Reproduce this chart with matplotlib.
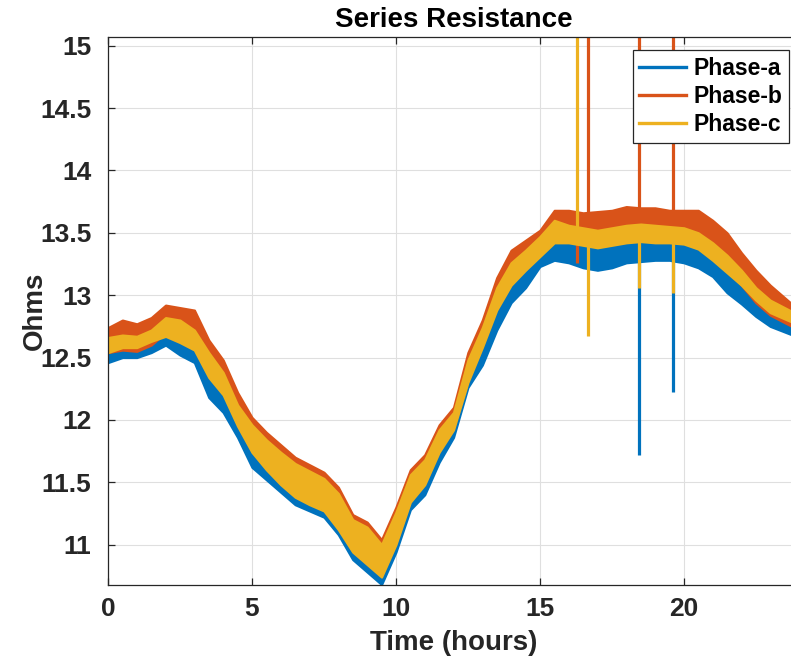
import numpy as np
import matplotlib
matplotlib.use("Agg")
import matplotlib.pyplot as plt

plt.rcParams['font.family'] = ['Liberation Sans', 'DejaVu Sans']
plt.rcParams['font.weight'] = 'bold'

# ---------------- data ----------------
time_h = [0.0, 0.5, 1.0, 1.5, 2.0, 2.5, 3.0, 3.5, 4.0, 4.5, 5.0, 5.5, 6.0, 6.5,
          7.0, 7.5, 8.0, 8.5, 9.0, 9.5, 10.0, 10.5, 11.0, 11.5, 12.0, 12.5,
          13.0, 13.5, 14.0, 14.5, 15.0, 15.5, 16.0, 16.5, 17.0, 17.5, 18.0,
          18.5, 19.0, 19.5, 20.0, 20.5, 21.0, 21.5, 22.0, 22.5, 23.0, 24.0]

# Phase-a band (lower / upper extent of the noisy trace)
phase_a_lo = [12.46, 12.50, 12.50, 12.54, 12.60, 12.52, 12.46, 12.18, 12.06, 11.86,
              11.62, 11.52, 11.42, 11.32, 11.27, 11.22, 11.08, 10.88, 10.78, 10.68,
              10.94, 11.28, 11.40, 11.66, 11.86, 12.26, 12.44, 12.72, 12.94, 13.06,
              13.23, 13.28, 13.26, 13.22, 13.20, 13.22, 13.26, 13.27, 13.28, 13.28,
              13.26, 13.22, 13.15, 13.02, 12.93, 12.83, 12.75, 12.66]
phase_a_hi = [12.66, 12.70, 12.70, 12.75, 12.79, 12.74, 12.68, 12.46, 12.32, 12.07,
              11.86, 11.72, 11.60, 11.50, 11.44, 11.39, 11.24, 11.06, 10.96, 10.86,
              11.12, 11.46, 11.60, 11.86, 12.04, 12.42, 12.70, 13.00, 13.20, 13.32,
              13.43, 13.54, 13.54, 13.52, 13.50, 13.52, 13.54, 13.55, 13.54, 13.54,
              13.53, 13.49, 13.40, 13.30, 13.20, 13.08, 12.98, 12.88]

# Phase-b band
phase_b_lo = [12.54, 12.56, 12.55, 12.60, 12.70, 12.68, 12.60, 12.42, 12.26, 12.00,
              11.84, 11.72, 11.62, 11.53, 11.47, 11.41, 11.29, 11.08, 11.02, 10.88,
              11.14, 11.44, 11.56, 11.80, 11.94, 12.36, 12.62, 12.94, 13.14, 13.24,
              13.35, 13.48, 13.44, 13.42, 13.40, 13.42, 13.44, 13.45, 13.44, 13.43,
              13.42, 13.38, 13.30, 13.20, 13.08, 12.94, 12.84, 12.72]
phase_b_hi = [12.74, 12.80, 12.77, 12.82, 12.92, 12.90, 12.88, 12.64, 12.48, 12.22,
              12.02, 11.90, 11.80, 11.70, 11.64, 11.58, 11.46, 11.24, 11.18, 11.04,
              11.30, 11.60, 11.72, 11.96, 12.10, 12.54, 12.80, 13.14, 13.36, 13.44,
              13.52, 13.68, 13.68, 13.66, 13.67, 13.68, 13.71, 13.70, 13.70, 13.68,
              13.68, 13.68, 13.60, 13.50, 13.34, 13.20, 13.08, 12.88]

# Phase-c band
phase_c_lo = [12.54, 12.58, 12.58, 12.63, 12.67, 12.62, 12.56, 12.34, 12.20, 11.95,
              11.74, 11.60, 11.48, 11.38, 11.32, 11.27, 11.12, 10.94, 10.84, 10.74,
              11.00, 11.34, 11.48, 11.74, 11.92, 12.30, 12.58, 12.88, 13.08, 13.20,
              13.31, 13.42, 13.42, 13.40, 13.38, 13.40, 13.42, 13.43, 13.42, 13.42,
              13.41, 13.37, 13.28, 13.18, 13.08, 12.96, 12.86, 12.76]
phase_c_hi = [12.66, 12.68, 12.67, 12.72, 12.82, 12.80, 12.72, 12.54, 12.38, 12.12,
              11.96, 11.84, 11.74, 11.65, 11.59, 11.53, 11.41, 11.20, 11.14, 11.00,
              11.26, 11.56, 11.68, 11.92, 12.06, 12.48, 12.74, 13.06, 13.26, 13.36,
              13.47, 13.60, 13.56, 13.54, 13.52, 13.54, 13.56, 13.57, 13.56, 13.55,
              13.54, 13.50, 13.42, 13.32, 13.20, 13.06, 12.96, 12.84]

# Single-sample outliers (time, extreme value)
spike_a_t = [18.44, 19.62]
spike_a_v = [11.72, 12.22]
spike_b_t = [16.30, 16.68, 18.44, 19.62]
spike_b_v = [13.26, 15.60, 15.60, 15.60]
spike_c_t = [16.30, 16.67, 18.44, 19.62]
spike_c_v = [15.60, 12.67, 13.06, 13.02]

series_names = ["Phase-a", "Phase-b", "Phase-c"]
series_colors = ["#0072BD", "#D95319", "#EDB120"]

# ---------------- figure ----------------
W, H = 791, 663
fig = plt.figure(figsize=(W / 100, H / 100), dpi=100)
ax = fig.add_axes([108 / W, 1 - 585 / H, (799 - 108) / W, (585 - 37) / H])

bands = [(phase_a_lo, phase_a_hi, spike_a_t, spike_a_v),
         (phase_b_lo, phase_b_hi, spike_b_t, spike_b_v),
         (phase_c_lo, phase_c_hi, spike_c_t, spike_c_v)]

handles = []
for (lo, hi, st, sv), name, col in zip(bands, series_names, series_colors):
    ax.fill_between(time_h, lo, hi, color=col, linewidth=1.6, edgecolor=col, zorder=2)
    mid = np.interp(st, time_h, (np.array(lo) + np.array(hi)) / 2)
    ax.vlines(st, mid, sv, color=col, linewidth=2.3, zorder=2)
    h, = ax.plot([], [], color=col, linewidth=2.4, label=name)
    handles.append(h)

ax.set_xlim(0, 24)
ax.set_ylim(10.676, 15.07)
ax.set_xticks([0, 5, 10, 15, 20])
ax.set_yticks([11, 11.5, 12, 12.5, 13, 13.5, 14, 14.5, 15])
ax.set_yticklabels(["11", "11.5", "12", "12.5", "13", "13.5", "14", "14.5", "15"])

ax.grid(True, color="#dfdfdf", linewidth=0.8, zorder=0)
ax.set_axisbelow(True)
for s in ax.spines.values():
    s.set_color("#262626")
    s.set_linewidth(0.9)
ax.tick_params(direction="in", length=5, width=0.9, color="#262626",
               top=True, right=True, labelsize=19, labelcolor="#262626")
ax.tick_params(axis="y", pad=12)
ax.tick_params(axis="x", pad=9)
for lab in ax.get_xticklabels() + ax.get_yticklabels():
    lab.set_fontweight("bold")

ax.set_title("Series Resistance", fontsize=20, fontweight="bold", color="black", pad=7)
ax.set_xlabel("Time (hours)", fontsize=20, fontweight="bold", color="#262626", labelpad=6)
ax.set_ylabel("Ohms", fontsize=20, fontweight="bold", color="#262626")
ax.yaxis.set_label_coords((48 - 108) / (799 - 108), 0.5)

leg = ax.legend(handles=handles, loc="upper right",
                bbox_to_anchor=(789 / W, 1 - 50 / H), bbox_transform=fig.transFigure,
                borderaxespad=0, frameon=True, fancybox=False, edgecolor="#262626",
                framealpha=1, handlelength=2.05, handletextpad=0.3, labelspacing=0.22,
                borderpad=0.3, prop={"weight": "bold", "size": 16.5})
leg.get_frame().set_linewidth(0.9)

fig.savefig("out.png", dpi=100)
